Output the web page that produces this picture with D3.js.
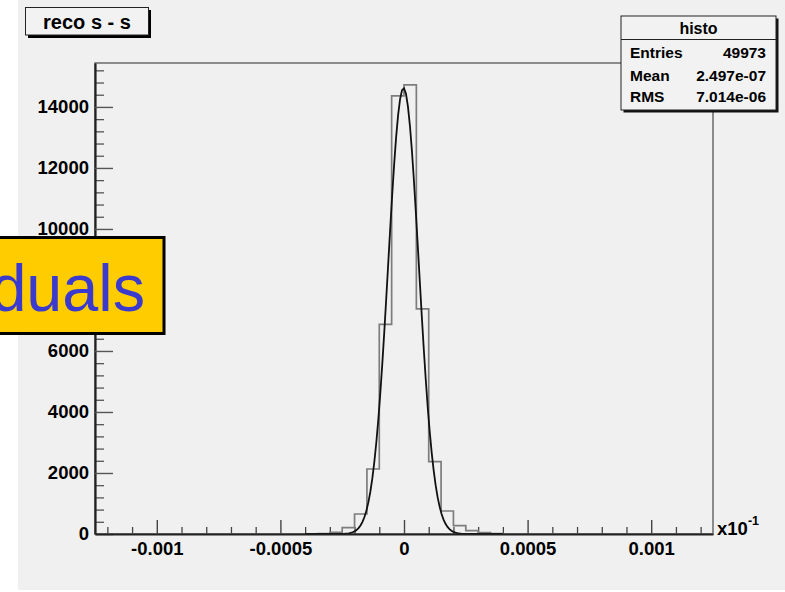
<!DOCTYPE html>
<html>
<head>
<meta charset="utf-8">
<script src="https://cdn.jsdelivr.net/npm/d3@7"></script>
<style>
  html, body { margin: 0; padding: 0; background: #ffffff; }
  svg { display: block; }
  text { font-family: "Liberation Sans", Arial, Helvetica, sans-serif; }
</style>
</head>
<body>
<script>
// Histogram of reconstructed minus true s (axis values carry an x10^-1 factor)
const binLow = [-0.00035, -0.0003, -0.00025, -0.0002, -0.00015, -0.0001, -0.00005,
                0, 0.00005, 0.0001, 0.00015, 0.0002, 0.00025, 0.0003, 0.00035];
const binCounts = [12, 56, 207, 656, 2131, 6875, 14361,
                   14721, 7377, 2371, 754, 272, 108, 50, 15];
const binWidth = 0.00005;

// Gaussian fit: constant, mean, sigma
const fitParams = [14620, -0.000002, 0.0000618];

// Axis ticks
const xMajorTicks = [-0.001, -0.0005, 0, 0.0005, 0.001];
const xTickLabels = ["-0.001", "-0.0005", "0", "0.0005", "0.001"];
const yMajorTicks = [0, 2000, 4000, 6000, 8000, 10000, 12000, 14000];
const yTickLabels = ["0", "2000", "4000", "6000", "8000", "10000", "12000", "14000"];

// Stat box
const statTitle = "histo";
const statNames = ["Entries", "Mean", "RMS"];
const statValues = ["49973", "2.497e-07", "7.014e-06"];

const W = 785, H = 592;
const frame = { left: 95, right: 713, top: 63, bottom: 534 };

const svg = d3.select("body").append("svg")
  .attr("width", W).attr("height", H);

// canvas background
svg.append("rect").attr("x", 18).attr("y", 0).attr("width", W - 18).attr("height", 590)
  .attr("fill", "#f0f0f0");

const x = d3.scaleLinear().domain([-0.00125, 0.00125]).range([frame.left, frame.right]);
const y = d3.scaleLinear().domain([0, 15440]).range([frame.bottom, frame.top]);

// frame (top and right edges)
svg.append("rect")
  .attr("x", frame.left).attr("y", frame.top)
  .attr("width", frame.right - frame.left).attr("height", frame.bottom - frame.top)
  .attr("fill", "none").attr("stroke", "#555").attr("stroke-width", 1.3);

// minor ticks
const yMinor = d3.range(0, 15440, 400).filter(v => v % 2000 !== 0);
const xMinor = d3.range(-12, 13).map(i => i * 0.0001).filter(v => Math.abs(Math.round(v * 10000) % 5) !== 0);

svg.append("g").attr("transform", `translate(${frame.left},0)`)
  .call(d3.axisLeft(y).tickValues(yMinor).tickSize(-9).tickSizeOuter(0).tickFormat(""))
  .call(g => g.select(".domain").remove())
  .call(g => g.selectAll("line").attr("stroke", "#555").attr("stroke-width", 1.3));

svg.append("g").attr("transform", `translate(0,${frame.bottom})`)
  .call(d3.axisBottom(x).tickValues(xMinor).tickSize(-7).tickSizeOuter(0).tickFormat(""))
  .call(g => g.select(".domain").remove())
  .call(g => g.selectAll("line").attr("stroke", "#444").attr("stroke-width", 1.3));

// histogram step outline
const histPts = [[x.domain()[0], 0], [binLow[0], 0]];
binLow.forEach((lo, i) => {
  histPts.push([lo, binCounts[i]]);
  histPts.push([lo + binWidth, binCounts[i]]);
});
histPts.push([binLow[binLow.length - 1] + binWidth, 0]);
histPts.push([x.domain()[1], 0]);

svg.append("path")
  .attr("d", d3.line().x(d => x(d[0])).y(d => y(d[1]))(histPts))
  .attr("fill", "none").attr("stroke", "#7d7d7d").attr("stroke-width", 1.7);

// fitted gaussian
const [fA, fMu, fSig] = fitParams;
const fitX = d3.range(-0.0004, 0.0004 + 1e-12, 0.000008);
svg.append("path")
  .attr("d", d3.line()
    .x(d => x(d))
    .y(d => y(fA * Math.exp(-0.5 * ((d - fMu) / fSig) ** 2)))(fitX))
  .attr("fill", "none").attr("stroke", "#111").attr("stroke-width", 1.8);

// major axes
const yAxis = svg.append("g").attr("transform", `translate(${frame.left},0)`)
  .call(d3.axisLeft(y).tickValues(yMajorTicks).tickSize(-18).tickSizeOuter(0).tickPadding(6)
    .tickFormat((d, i) => yTickLabels[i]));
yAxis.select(".domain").attr("stroke", "#222").attr("stroke-width", 2.2);
yAxis.selectAll("line").attr("stroke", "#555").attr("stroke-width", 1.4);
yAxis.selectAll("text").attr("font-size", 18.5).attr("font-weight", "bold")
  .attr("fill", "#000").style("font-family", "'Liberation Sans', Arial, sans-serif");

const xAxis = svg.append("g").attr("transform", `translate(0,${frame.bottom})`)
  .call(d3.axisBottom(x).tickValues(xMajorTicks).tickSize(-14).tickSizeOuter(0).tickPadding(8)
    .tickFormat((d, i) => xTickLabels[i]));
xAxis.select(".domain").attr("stroke", "#222").attr("stroke-width", 2.2);
xAxis.selectAll("line").attr("stroke", "#444").attr("stroke-width", 1.4);
xAxis.selectAll("text").attr("font-size", 18.5).attr("font-weight", "bold")
  .attr("fill", "#000").style("font-family", "'Liberation Sans', Arial, sans-serif");

// axis multiplier
const mult = svg.append("text").attr("x", 717).attr("y", 535)
  .attr("font-size", 18.5).attr("font-weight", "bold").attr("fill", "#000");
mult.append("tspan").text("x10");
mult.append("tspan").attr("dy", -10).attr("font-size", 12.5).text("-1");

// title box
svg.append("rect").attr("x", 28).attr("y", 10).attr("width", 123).attr("height", 28).attr("fill", "#000");
svg.append("rect").attr("x", 25.5).attr("y", 7.5).attr("width", 123).attr("height", 27.5)
  .attr("fill", "#f2f2f2").attr("stroke", "#222").attr("stroke-width", 1);
svg.append("text").attr("x", 87).attr("y", 28.5).attr("text-anchor", "middle")
  .attr("font-size", 20).attr("font-weight", "bold").attr("fill", "#000")
  .text("reco s - s");

// stat box
const sb = { x: 621, y: 16, w: 155, h: 94 };
svg.append("rect").attr("x", sb.x + 2.5).attr("y", sb.y + 2.5).attr("width", sb.w).attr("height", sb.h).attr("fill", "#111");
svg.append("rect").attr("x", sb.x).attr("y", sb.y).attr("width", sb.w).attr("height", sb.h)
  .attr("fill", "#f2f2f2").attr("stroke", "#222").attr("stroke-width", 1);
svg.append("line").attr("x1", sb.x).attr("x2", sb.x + sb.w).attr("y1", 39.5).attr("y2", 39.5)
  .attr("stroke", "#222").attr("stroke-width", 1);
svg.append("text").attr("x", sb.x + sb.w / 2).attr("y", 34).attr("text-anchor", "middle")
  .attr("font-size", 16).attr("font-weight", "bold").text(statTitle);
const rowY = [58, 80.5, 102];
statNames.forEach((n, i) => {
  svg.append("text").attr("x", 630).attr("y", rowY[i])
    .attr("font-size", 15.5).attr("font-weight", "bold").text(n);
  svg.append("text").attr("x", 766).attr("y", rowY[i]).attr("text-anchor", "end")
    .attr("font-size", 15.5).attr("font-weight", "bold").text(statValues[i]);
});

// slide heading overlapping the chart
svg.append("rect").attr("x", -5).attr("y", 237.5).attr("width", 169).attr("height", 96)
  .attr("fill", "#ffcc00").attr("stroke", "#000").attr("stroke-width", 3);
svg.append("g").attr("transform", "translate(145,311) scale(0.98,1)")
  .append("text").attr("text-anchor", "end")
  .attr("font-size", 66).attr("fill", "#3a3acf")
  .text("duals");
</script>
</body>
</html>
